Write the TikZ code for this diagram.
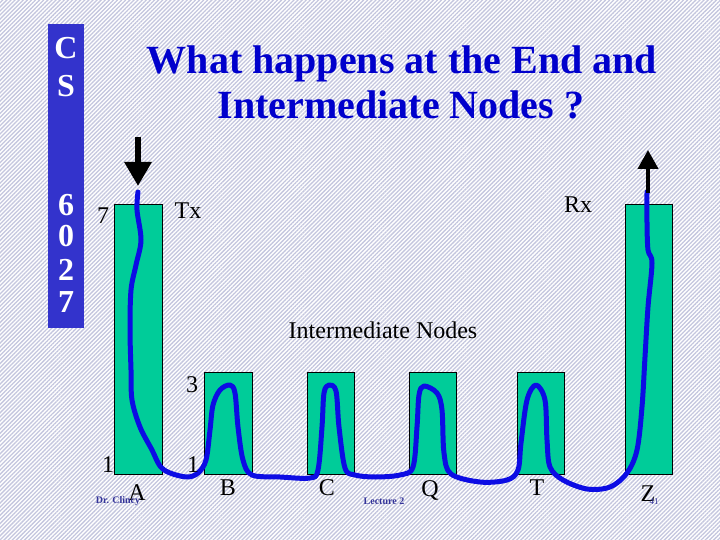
\documentclass[tikz,border=0pt]{standalone}
\usepackage{fontspec}
\setmainfont{Liberation Serif}
\usetikzlibrary{patterns.meta,arrows.meta}
\definecolor{hatch}{RGB}{196,198,222}
\definecolor{barblue}{RGB}{51,51,204}
\definecolor{titleblue}{RGB}{0,0,204}
\definecolor{nodegreen}{RGB}{0,204,153}
\definecolor{wire}{RGB}{12,12,228}
\definecolor{footblue}{RGB}{51,51,153}
\tikzset{
  nodebox/.style={draw=black, line width=0.8pt, fill=nodegreen, inner sep=0pt, outer sep=0pt, minimum width=48pt},
  lbl/.style={inner sep=0pt, font=\fontsize{24}{24}\selectfont},
  barlbl/.style={inner sep=0pt, text=white, font=\fontsize{32}{32}\selectfont\bfseries, anchor=base},
  foot/.style={inner sep=0pt, text=footblue, font=\fontsize{10}{10}\selectfont\bfseries},
  bigarrow/.style={line width=6pt, black}
}
\begin{document}
\begin{tikzpicture}[x=1pt,y=-1pt]
\useasboundingbox (0,0) rectangle (720,540);
\fill[white] (0,0) rectangle (720,540);
\fill[pattern={Lines[angle=45,distance=2.9pt,line width=1.3pt]}, pattern color=hatch] (0,0) rectangle (720,540);
% side bar
\fill[barblue] (48,24) rectangle (84,328);
\node[barlbl] (bc) at (66,59) {C};
\node[barlbl] (bs) at (66,97) {S};
\node[barlbl] (b6) at (66,215) {6};
\node[barlbl] (b0) at (66,247) {0};
\node[barlbl] (b2) at (66,280) {2};
\node[barlbl] (b7) at (66,312) {7};
% title
\node[inner sep=0pt, anchor=base, text=titleblue, font=\fontsize{40}{40}\selectfont\bfseries] (t1) at (402,74) {What happens at the End and};
\node[inner sep=0pt, anchor=base, text=titleblue, font=\fontsize{40}{40}\selectfont\bfseries] (t2) at (401,119) {Intermediate Nodes ?};
% boxes
\node[nodebox, minimum height=270pt] (A) at (138,339) {};
\node[nodebox, minimum height=102pt] (B) at (228,423) {};
\node[nodebox, minimum width=47pt, minimum height=102pt] (C) at (330.5,423) {};
\node[nodebox, minimum width=47pt, minimum height=102pt] (Q) at (432.5,423) {};
\node[nodebox, minimum width=47pt, minimum height=102pt] (T) at (540.5,423) {};
\node[nodebox, minimum width=47pt, minimum height=270pt] (Z) at (648.5,339) {};
% wire
\draw[wire, line width=5pt, line cap=round, line join=round]
 plot[smooth, tension=0.55] coordinates {
 (138,192) (137,210) (141,240) (136,265) (131,290) (130,330) (131,370) (132,400) (140,427) (152,450) (160,466) (170,473) (187,477) (198,473) (206,460) (210,430) (213,405) (220,390) (230,385) (235,393) (238,427) (243,460) (252,475) (280,477) (310,478) (318,470) (322,427) (324,393) (329,385) (336,391) (339,427) (345,468) (355,475) (375,477) (400,475) (413,467) (417,427) (419,395) (424,386) (437,393) (442,410) (444,453) (451,474) (480,482) (507,480) (518,470) (521,443) (527,400) (536,385) (545,400) (547,440) (550,467) (563,480) (587,489) (610,487) (627,473) (637,450) (642,407) (645,357) (648,307) (652,263) (648,250) (647,223) (647,192)};
% arrows
\coordinate (dtop) at (138,137);
\coordinate (dtip) at (138,186);
\draw[bigarrow, -{Triangle[width=26pt,length=24pt]}] (dtop) -- (dtip);
\coordinate (ubot) at (648,193);
\coordinate (utip) at (648,150);
\draw[line width=4pt, black, -{Triangle[width=20pt,length=19pt]}] (ubot) -- (utip);
% labels
\node[lbl] (l7) at (103,216) {7};
\node[lbl] (tx) at (188,211) {Tx};
\node[lbl] (rx) at (578,205) {Rx};
\node[lbl] (im) at (383,330) {Intermediate Nodes};
\node[lbl] (l3) at (192,385) {3};
\node[lbl] (l1a) at (108,465) {1};
\node[lbl] (l1b) at (193,465) {1};
\node[lbl] (la) at (137,493) {A};
\node[lbl] (lb) at (228,488) {B};
\node[lbl] (lc) at (327,488) {C};
\node[lbl] (lq) at (430,490) {Q};
\node[lbl] (lt) at (537,488) {T};
\node[lbl] (lz) at (648,494) {Z};
\node[foot] (dr) at (118,501) {Dr. Clincy};
\node[foot] (lec) at (384,501) {Lecture 2};
\node[inner sep=0pt, text=footblue, font=\fontsize{9}{9}\selectfont] (pg) at (654,502) {41};
\end{tikzpicture}
\end{document}
